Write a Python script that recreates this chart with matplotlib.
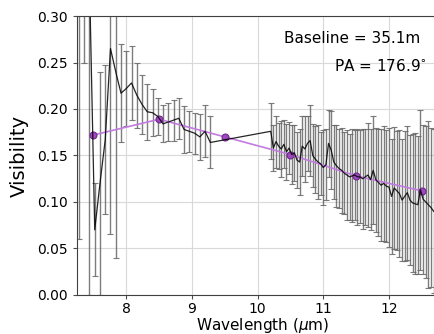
import numpy as np
import matplotlib
matplotlib.use("Agg")
import matplotlib.pyplot as plt

# spectrally dispersed visibility (black, with error bars)
wave = [7.28, 7.36, 7.44, 7.52, 7.60, 7.68, 7.76, 7.84, 7.92, 8.00, 8.08, 8.16, 8.24,
        8.32, 8.40, 8.48, 8.56, 8.64, 8.72, 8.80, 8.88, 8.96, 9.04, 9.12, 9.20, 9.28,
        10.20, 10.24, 10.28, 10.32, 10.36, 10.40, 10.44, 10.48, 10.52, 10.56, 10.60,
        10.64, 10.68, 10.72, 10.76, 10.80, 10.84, 10.88, 10.92, 10.96, 11.00, 11.04,
        11.08, 11.12, 11.16, 11.20, 11.24, 11.28, 11.32, 11.36, 11.40, 11.44, 11.48,
        11.52, 11.56, 11.60, 11.64, 11.68, 11.72, 11.76, 11.80, 11.84, 11.88, 11.92,
        11.96, 12.00, 12.04, 12.08, 12.12, 12.16, 12.20, 12.24, 12.28, 12.32, 12.36,
        12.40, 12.44, 12.48, 12.52, 12.56, 12.60, 12.64, 12.68, 12.72]
vis = [0.36, 0.40, 0.34, 0.07, 0.12, 0.167, 0.265, 0.24, 0.217, 0.222, 0.228, 0.215, 0.205,
       0.197, 0.196, 0.192, 0.184, 0.186, 0.188, 0.190, 0.178, 0.176, 0.174, 0.170, 0.176, 0.164,
       0.176, 0.158, 0.165, 0.160, 0.157, 0.162, 0.154, 0.158, 0.151, 0.153, 0.145,
       0.143, 0.160, 0.157, 0.163, 0.166, 0.150, 0.146, 0.143, 0.141, 0.137, 0.140,
       0.163, 0.156, 0.143, 0.139, 0.136, 0.134, 0.131, 0.129, 0.127, 0.128, 0.129,
       0.127, 0.127, 0.125, 0.127, 0.129, 0.124, 0.134, 0.124, 0.121, 0.118, 0.120,
       0.117, 0.116, 0.106, 0.115, 0.112, 0.109, 0.102, 0.106, 0.110, 0.102, 0.099,
       0.098, 0.097, 0.113, 0.103, 0.100, 0.097, 0.094, 0.090, 0.088]
err = [0.30, 0.15, 0.34, 0.05, 0.12, 0.080, 0.20, 0.20, 0.053, 0.040, 0.040, 0.035, 0.032,
       0.030, 0.025, 0.020, 0.020, 0.020, 0.022, 0.022, 0.025, 0.022, 0.022, 0.025, 0.028, 0.028,
       0.030, 0.025, 0.028, 0.025, 0.030, 0.026, 0.030, 0.028, 0.032, 0.030, 0.030,
       0.035, 0.032, 0.036, 0.030, 0.038, 0.034, 0.036, 0.040, 0.034, 0.040, 0.038,
       0.036, 0.042, 0.040, 0.044, 0.042, 0.046, 0.044, 0.048, 0.046, 0.050, 0.048,
       0.052, 0.050, 0.054, 0.052, 0.056, 0.054, 0.058, 0.056, 0.058, 0.060, 0.062,
       0.060, 0.064, 0.062, 0.066, 0.064, 0.068, 0.066, 0.070, 0.072, 0.070, 0.074,
       0.076, 0.074, 0.086, 0.080, 0.082, 0.090, 0.086, 0.088, 0.090]

# averaged visibility (purple)
wave_avg = [7.5, 8.5, 9.5, 10.5, 11.5, 12.5]
vis_avg = [0.172, 0.189, 0.170, 0.151, 0.128, 0.112]

fig = plt.figure(figsize=(4.35, 3.34), dpi=100)
ax = fig.add_axes([0.177, 0.117, 0.853, 0.835])

ax.errorbar(wave, vis, yerr=err, color='black', lw=0.9, ecolor='0.4',
            elinewidth=1.0, capsize=2.2, capthick=0.8, alpha=0.85)
ax.plot(wave_avg, vis_avg, '-o', color='#c27be0', lw=1.2, ms=5,
        mfc='#a048c0', mec='#6e2a8a', mew=0.8)

ax.set_xlim(7.25, 12.90)
ax.set_ylim(0.0, 0.30)
ax.set_xticks([8, 9, 10, 11, 12])
ax.set_yticks([0.0, 0.05, 0.10, 0.15, 0.20, 0.25, 0.30])
ax.set_yticklabels(['0.00', '0.05', '0.10', '0.15', '0.20', '0.25', '0.30'])
ax.tick_params(labelsize=10, length=3, color='0.3')
ax.tick_params(axis='x', pad=2)
ax.grid(True, color='0.85', lw=0.8)
for s in ax.spines.values():
    s.set_color('0.25')

ax.set_xlabel(r'Wavelength ($\mu$m)', fontsize=11, labelpad=0)
ax.set_ylabel('Visibility', fontsize=14, labelpad=6)

ax.text(0.925, 0.921, 'Baseline = 35.1m', transform=ax.transAxes,
        ha='right', va='center', fontsize=11)
ax.text(0.943, 0.821, r'PA = 176.9$^{\circ}$', transform=ax.transAxes,
        ha='right', va='center', fontsize=11)

plt.savefig('out.png', dpi=100)
